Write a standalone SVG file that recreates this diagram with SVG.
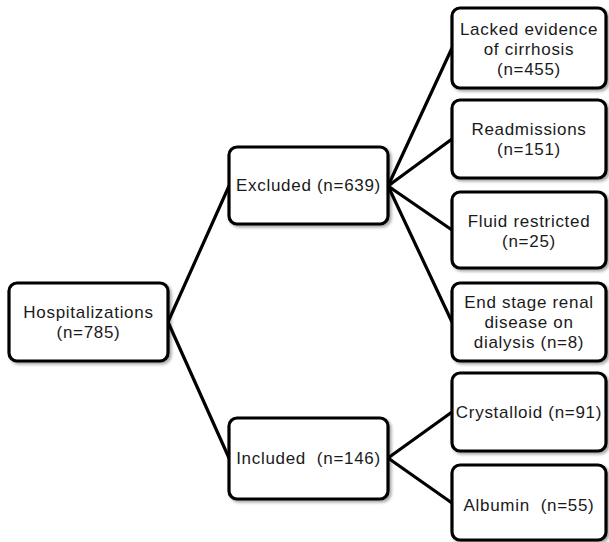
<svg xmlns="http://www.w3.org/2000/svg" width="609" height="542" viewBox="0 0 609 542">
<defs>
<filter id="sh" x="-10%" y="-10%" width="130%" height="130%">
<feGaussianBlur in="SourceAlpha" stdDeviation="1.5"/>
<feOffset dx="2" dy="2" result="b"/>
<feComponentTransfer><feFuncA type="linear" slope="0.35"/></feComponentTransfer>
<feMerge><feMergeNode/><feMergeNode in="SourceGraphic"/></feMerge>
</filter>
</defs>
<style>
.box{fill:#fff;stroke:#000;stroke-width:3.2;filter:url(#sh)}
.t{font-family:"Liberation Sans",Arial,sans-serif;font-size:17px;letter-spacing:0.7px;fill:#1a1a1a;text-anchor:middle}
.c{stroke:#000;stroke-width:3.2;fill:none;stroke-linecap:round}
</style>
<rect width="609" height="542" fill="#fff"/>
<g id="connectors">
<line class="c" x1="168" y1="322" x2="229" y2="186"/>
<line class="c" x1="168" y1="322" x2="229" y2="458"/>
<line class="c" x1="388" y1="186" x2="452" y2="48"/>
<line class="c" x1="388" y1="186" x2="452" y2="139"/>
<line class="c" x1="388" y1="186" x2="452" y2="230"/>
<line class="c" x1="388" y1="186" x2="452" y2="322"/>
<line class="c" x1="388" y1="458" x2="452" y2="412"/>
<line class="c" x1="388" y1="458" x2="452" y2="503"/>
</g>
<g id="hospitalizations">
<rect class="box" x="9" y="283" width="159" height="78" rx="8"/>
<text class="t" x="88.5" y="318">Hospitalizations</text>
<text class="t" x="88.5" y="338">(n=785)</text>
</g>
<g id="excluded">
<rect class="box" x="229" y="147" width="159" height="77" rx="8"/>
<text class="t" x="308.5" y="191">Excluded (n=639)</text>
</g>
<g id="included">
<rect class="box" x="229" y="418" width="159" height="81" rx="8"/>
<text class="t" x="308.5" y="464">Included&#160; (n=146)</text>
</g>
<g id="lacked">
<rect class="box" x="452" y="8" width="154" height="80" rx="8"/>
<text class="t" x="529" y="35">Lacked evidence</text>
<text class="t" x="529" y="55">of cirrhosis</text>
<text class="t" x="529" y="75">(n=455)</text>
</g>
<g id="readmissions">
<rect class="box" x="452" y="100" width="154" height="78" rx="8"/>
<text class="t" x="529" y="135">Readmissions</text>
<text class="t" x="529" y="155">(n=151)</text>
</g>
<g id="fluid">
<rect class="box" x="452" y="192" width="154" height="76" rx="8"/>
<text class="t" x="529" y="227">Fluid restricted</text>
<text class="t" x="529" y="247">(n=25)</text>
</g>
<g id="esrd">
<rect class="box" x="452" y="283" width="154" height="78" rx="8"/>
<text class="t" x="529" y="308">End stage renal</text>
<text class="t" x="529" y="328">disease on</text>
<text class="t" x="529" y="348">dialysis (n=8)</text>
</g>
<g id="crystalloid">
<rect class="box" x="452" y="373" width="154" height="78" rx="8"/>
<text class="t" x="529" y="418">Crystalloid (n=91)</text>
</g>
<g id="albumin">
<rect class="box" x="452" y="465" width="154" height="75" rx="8"/>
<text class="t" x="529" y="511">Albumin&#160; (n=55)</text>
</g>
</svg>
